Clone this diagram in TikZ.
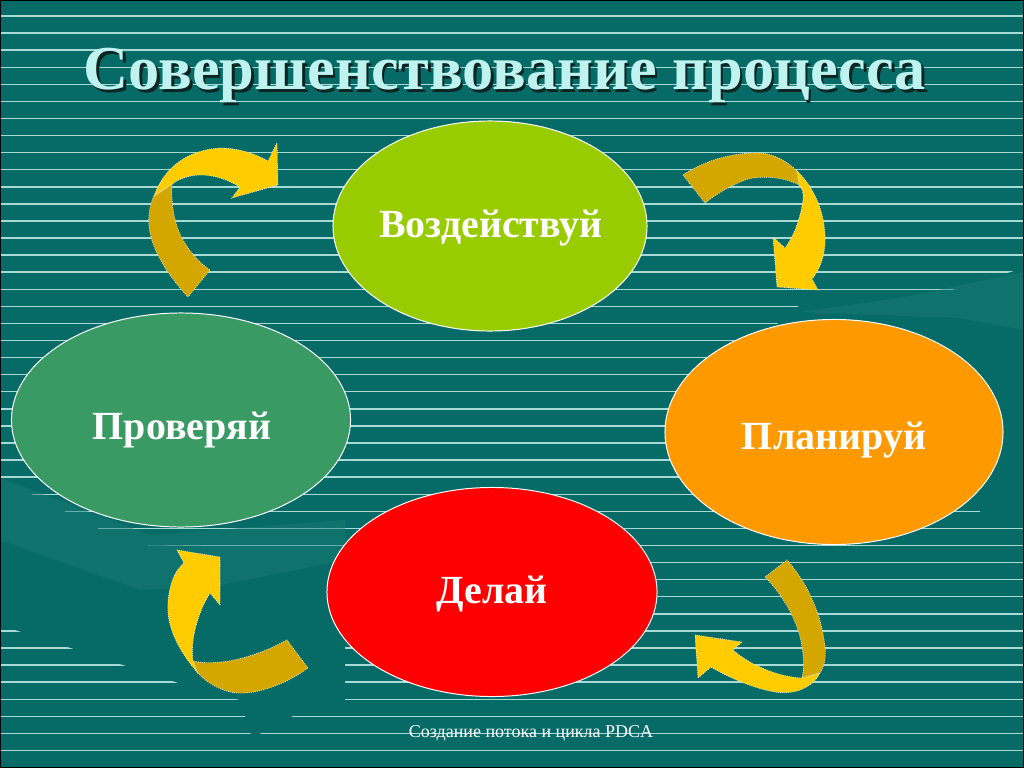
\documentclass[tikz,border=0pt]{standalone}
\usepackage{fontspec}
\setmainfont{Liberation Serif}
\usepackage{tikz}
\usetikzlibrary{shapes.geometric}

\definecolor{slidebg}{HTML}{066B66}
\definecolor{stripecol}{HTML}{A6DAD6}
\definecolor{handcol}{HTML}{1E7C77}
\definecolor{titlecol}{HTML}{BFF3EF}
\definecolor{titleshade}{HTML}{0C2422}
\definecolor{actgreen}{HTML}{99CC00}
\definecolor{checkgreen}{HTML}{3A9A63}
\definecolor{planorange}{HTML}{FF9900}
\definecolor{dored}{HTML}{FF0000}
\definecolor{arrowyellow}{HTML}{FFCC00}
\definecolor{arrowgold}{HTML}{D4A600}

\newcommand{\shadowed}[1]{\rlap{\kern1.8pt\raisebox{-1.8pt}{\color{titleshade}#1}}#1}

\tikzset{
  stripe/.style={draw=stripecol, line width=1pt},
  bubble/.style={ellipse, draw=white, line width=0.7pt, inner sep=0pt},
  bubbletext/.style={anchor=base, text=white, font=\bfseries\fontsize{28.4}{32}\selectfont},
  arrowlight/.style={fill=arrowyellow, draw=white, densely dotted, line width=0.5pt},
  arrowdark/.style={fill=arrowgold, draw=white, densely dotted, line width=0.5pt}
}

\begin{document}
\begin{tikzpicture}[x=0.025cm, y=-0.025cm]
  \useasboundingbox (0,0) rectangle (1024,768);
  \fill[slidebg] (0,0) rectangle (1024,768);
  \foreach \i in {0,...,43}
    \draw[stripe] (0,{16+17.08*\i}) -- (1024,{16+17.08*\i});

  % hands in the background
  \fill[slidebg] (0,478) -- (130,545) -- (345,548) -- (345,710) -- (300,712)
    -- (252,738) -- (240,700) -- (200,690) -- (0,625) -- cycle;
  \fill[handcol, opacity=0.45] (0,478) -- (150,535) -- (345,520) -- (345,560)
    -- (220,585) -- (140,590) -- (0,540) -- cycle;
  \fill[slidebg] (770,330) -- (800,305) -- (943,293) -- (1024,268)
    -- (1024,520) -- (990,520) -- cycle;
  \fill[handcol, opacity=0.45] (800,312) -- (900,298) -- (1024,272)
    -- (1024,330) -- (960,318) -- cycle;

  \draw[black, line width=2pt] (0,0) rectangle (1024,768);

  \node[font=\bfseries\fontsize{44.4}{50}\selectfont, text=titlecol, anchor=base]
    (title) at (505,90) {\shadowed{Совершенствование процесса}};

  \node[bubble, fill=actgreen, minimum width=7.85cm, minimum height=5.25cm]
    (act) at (490,226) {};
  \node[bubble, fill=checkgreen, minimum width=8.475cm, minimum height=5.35cm]
    (check) at (181,420) {};
  \node[bubble, fill=planorange, minimum width=8.45cm, minimum height=5.625cm]
    (plan) at (834,432) {};
  \node[bubble, fill=dored, minimum width=8.25cm, minimum height=5.225cm]
    (do) at (492,592) {};
  \node[bubbletext] (acttext) at (491,237) {Воздействуй};
  \node[bubbletext] (checktext) at (182,439) {Проверяй};
  \node[bubbletext] (plantext) at (834,449) {Планируй};
  \node[bubbletext] (dotext) at (492,603) {Делай};

  % check -> act
  \draw[arrowdark] (188,297) .. controls (165,272) and (146,242) .. (149,215)
    .. controls (150,205) and (152,200) .. (154,196) -- (172,184)
    .. controls (171,200) and (173,222) .. (183,240)
    .. controls (192,255) and (200,263) .. (210,270) -- cycle;
  \draw[arrowlight] (154,196) .. controls (165,165) and (190,150) .. (220,148)
    .. controls (240,148) and (258,155) .. (268,161) -- (277,143) -- (278,185)
    -- (232,198) -- (240,187) .. controls (222,176) and (195,168) .. (172,184) -- cycle;

  % act -> plan
  \draw[arrowdark] (683,175) .. controls (705,160) and (735,152) .. (760,153)
    .. controls (775,154) and (788,162) .. (797,171) -- (799,185)
    .. controls (785,177) and (760,175) .. (745,180)
    .. controls (730,186) and (715,195) .. (705,203) -- cycle;
  \draw[arrowlight] (797,171) .. controls (815,188) and (826,215) .. (825,243)
    .. controls (824,260) and (818,272) .. (812,279) -- (818,290) -- (777,287)
    -- (773,237) -- (785,248) .. controls (795,235) and (801,215) .. (803,200)
    .. controls (804,193) and (802,188) .. (799,185) -- cycle;

  % plan -> do
  \draw[arrowdark] (765,577) -- (787,560) .. controls (805,580) and (820,610) .. (824,640)
    .. controls (827,655) and (825,665) .. (820,673) -- (802,678)
    .. controls (805,665) and (803,645) .. (798,630)
    .. controls (792,612) and (780,592) .. (765,577) -- cycle;
  \draw[arrowlight] (820,673) .. controls (812,688) and (795,695) .. (775,692)
    .. controls (752,688) and (728,677) .. (711,667) -- (698,678) -- (695,635)
    -- (742,642) -- (733,650) .. controls (750,665) and (778,677) .. (802,678) -- cycle;

  % do -> check
  \draw[arrowdark] (197,672) -- (193,661) .. controls (215,666) and (250,660) .. (287,640)
    -- (308,668) .. controls (285,685) and (252,697) .. (230,692)
    .. controls (215,688) and (205,681) .. (197,672) -- cycle;
  \draw[arrowlight] (177,550) -- (220,557) -- (220,605) -- (210,593)
    .. controls (198,612) and (190,640) .. (193,661) -- (197,672)
    .. controls (178,650) and (166,625) .. (168,603)
    .. controls (169,585) and (175,570) .. (184,563) -- cycle;

  \node[font=\fontsize{12.8}{15}\selectfont, text=white, anchor=base]
    (footer) at (531,737) {Создание потока и цикла PDCA};
\end{tikzpicture}
\end{document}
